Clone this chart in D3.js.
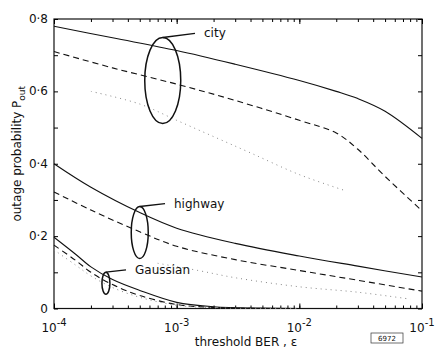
<!DOCTYPE html>
<html>
<head>
<meta charset="utf-8">
<script src="https://cdn.jsdelivr.net/npm/d3@7"></script>
<style>
  body { margin: 0; background: #fff; }
  svg text { font-family: "DejaVu Sans", sans-serif; fill: #111; }
</style>
</head>
<body>
<div id="chart"></div>
<script>
// threshold BER values (x) and outage probabilities (y)
const cityX      = [1e-4, 3e-4, 1e-3, 3e-3, 1e-2, 2e-2, 3e-2, 5e-2, 1e-1];
const citySolid  = [0.78, 0.748, 0.713, 0.675, 0.63, 0.6, 0.58, 0.545, 0.47];
const cityDashed = [0.71, 0.665, 0.62, 0.575, 0.52, 0.485, 0.44, 0.365, 0.27];
const cityDotX   = [2e-4, 5e-4, 1e-3, 2e-3, 4e-3, 1e-2, 2.4e-2];
const cityDotted = [0.60, 0.565, 0.52, 0.475, 0.43, 0.37, 0.325];

const hwX        = [1e-4, 2e-4, 5e-4, 1e-3, 3e-3, 1e-2, 3e-2, 1e-1];
const hwSolid    = [0.40, 0.335, 0.265, 0.222, 0.18, 0.145, 0.117, 0.087];
const hwDashed   = [0.322, 0.272, 0.212, 0.172, 0.135, 0.105, 0.078, 0.048];
const hwDotX     = [7e-4, 1.5e-3, 3e-3, 1e-2, 3e-2, 8e-2];
const hwDotted   = [0.125, 0.105, 0.085, 0.06, 0.045, 0.026];

const gX         = [1e-4, 1.5e-4, 2e-4, 3e-4, 5e-4, 1e-3, 2e-3, 5e-3, 1e-2];
const gSolid     = [0.197, 0.15, 0.115, 0.08, 0.05, 0.017, 0.005, 0.001, 0];
const gDashed    = [0.175, 0.133, 0.1, 0.066, 0.036, 0.011, 0.003, 0, 0];
const gDotted    = [0.162, 0.12, 0.09, 0.058, 0.031, 0.009, 0.002, 0, 0];

const xTicks = [1e-4, 1e-3, 1e-2, 1e-1];
const xTickExp = ["-4", "-3", "-2", "-1"];
const yTicks = [0, 0.2, 0.4, 0.6, 0.8];
const yTickLabels = ["0", "0\u00b72", "0\u00b74", "0\u00b76", "0\u00b78"];

const width = 435, height = 348;
const margin = {top: 19, right: 13, bottom: 39.5, left: 54};
const w = width - margin.left - margin.right;
const h = height - margin.top - margin.bottom;

const svg = d3.select("#chart").append("svg")
  .attr("width", width).attr("height", height);
const g = svg.append("g")
  .attr("transform", "translate(" + margin.left + "," + margin.top + ")");

const x = d3.scaleLog().domain([1e-4, 1e-1]).range([0, w]);
const y = d3.scaleLinear().domain([0, 0.8]).range([h, 0]);

// frame
g.append("rect").attr("width", w).attr("height", h)
  .attr("fill", "none").attr("stroke", "#111").attr("stroke-width", 1.2);

// minor ticks (log x) on top and bottom
const minor = [];
for (let e = -4; e < -1; e++) for (let k = 1; k < 10; k++) minor.push(k * Math.pow(10, e));
minor.push(1e-1);
g.append("g").attr("transform", "translate(0," + h + ")")
  .call(d3.axisBottom(x).tickValues(minor).tickSize(-3).tickFormat(""))
  .call(a => a.select(".domain").remove());
g.append("g")
  .call(d3.axisTop(x).tickValues(minor).tickSize(-3).tickFormat(""))
  .call(a => a.select(".domain").remove());
// major x ticks slightly longer
g.append("g").attr("transform", "translate(0," + h + ")")
  .call(d3.axisBottom(x).tickValues(xTicks).tickSize(-5).tickFormat(""))
  .call(a => a.select(".domain").remove());
g.append("g")
  .call(d3.axisTop(x).tickValues(xTicks).tickSize(-5).tickFormat(""))
  .call(a => a.select(".domain").remove());

// y ticks inward on left and right
const yt = d3.range(0, 0.81, 0.1);
g.append("g")
  .call(d3.axisLeft(y).tickValues(yt).tickSize(-4).tickFormat(""))
  .call(a => a.select(".domain").remove());
g.append("g").attr("transform", "translate(" + w + ",0)")
  .call(d3.axisRight(y).tickValues(yt).tickSize(-4).tickFormat(""))
  .call(a => a.select(".domain").remove());

// y tick labels
g.selectAll(".ylab").data(yTicks).enter().append("text")
  .attr("class", "ylab")
  .attr("x", -6).attr("y", d => y(d) + 4)
  .attr("text-anchor", "end").attr("font-size", 12)
  .text((d, i) => yTickLabels[i]);

// x tick labels with superscripts
xTicks.forEach((t, i) => {
  const tx = g.append("text")
    .attr("x", x(t)).attr("y", h + 23)
    .attr("text-anchor", "middle").attr("font-size", 12);
  tx.append("tspan").text("10");
  tx.append("tspan").attr("dy", -6).attr("font-size", 10).text(xTickExp[i]);
});

// axis titles
g.append("text")
  .attr("x", w / 2 + 8).attr("y", h + 37)
  .attr("text-anchor", "middle").attr("font-size", 12)
  .text("threshold BER , \u03b5");

const yl = svg.append("text")
  .attr("transform", "translate(21," + (margin.top + h / 2 - 10) + ") rotate(-90)")
  .attr("text-anchor", "middle").attr("font-size", 12);
yl.append("tspan").text("outage probability  P");
yl.append("tspan").attr("dy", 4).attr("font-size", 9).text("out");

// curves
const line = d3.line().x(d => x(d[0])).y(d => y(d[1])).curve(d3.curveCatmullRom.alpha(0.5));
const zip = (xs, ys) => xs.map((v, i) => [v, ys[i]]);
const styles = {
  solid:  {dash: null, width: 1.1, color: "#111"},
  dashed: {dash: "6,4", width: 1.1, color: "#111"},
  dotted: {dash: "1,4", width: 1, color: "#888"}
};
const curves = [
  [cityX, citySolid, "solid"], [cityX, cityDashed, "dashed"], [cityDotX, cityDotted, "dotted"],
  [hwX, hwSolid, "solid"], [hwX, hwDashed, "dashed"], [hwDotX, hwDotted, "dotted"],
  [gX, gSolid, "solid"], [gX, gDashed, "dashed"], [gX, gDotted, "dotted"]
];
g.selectAll(".curve").data(curves).enter().append("path")
  .attr("class", "curve")
  .attr("d", d => line(zip(d[0], d[1])))
  .attr("fill", "none")
  .attr("stroke", d => styles[d[2]].color)
  .attr("stroke-width", d => styles[d[2]].width)
  .attr("stroke-dasharray", d => styles[d[2]].dash);

// group annotations: ellipse around the curves + leader + label
const groups = [
  {name: "city",     cx: 7.7e-4, cy: 0.63, rx: 18, ry: 43, lx: 195, ly: 0.76},
  {name: "highway",  cx: 5e-4,   cy: 0.21, rx: 8.5, ry: 26, lx: 165, ly: 0.29},
  {name: "Gaussian", cx: 2.65e-4, cy: 0.07, rx: 4, ry: 11, lx: 126, ly: 0.107}
];
groups.forEach(gr => {
  const cx = x(gr.cx), cy = y(gr.cy);
  g.append("ellipse").attr("cx", cx).attr("cy", cy)
    .attr("rx", gr.rx).attr("ry", gr.ry)
    .attr("fill", "none").attr("stroke", "#111").attr("stroke-width", 1.5);
  g.append("path")
    .attr("d", "M" + cx + "," + (cy - gr.ry) + "L" + (gr.lx - margin.left) + "," + y(gr.ly))
    .attr("stroke", "#111").attr("stroke-width", 1.3).attr("fill", "none");
  g.append("text")
    .attr("x", gr.lx - margin.left + 9).attr("y", y(gr.ly) + 4)
    .attr("font-size", 12).text(gr.name);
});

// figure number box
svg.append("rect").attr("x", 371).attr("y", 333).attr("width", 32).attr("height", 10)
  .attr("fill", "none").attr("stroke", "#333").attr("stroke-width", 0.7);
svg.append("text").attr("x", 387).attr("y", 341).attr("text-anchor", "middle")
  .attr("font-size", 7).text("6972");
</script>
</body>
</html>
